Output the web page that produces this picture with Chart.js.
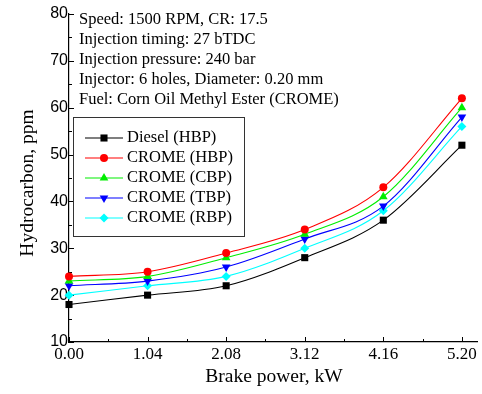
<!DOCTYPE html>
<html>
<head>
<meta charset="utf-8">
<script src="https://cdn.jsdelivr.net/npm/chart.js@4.4.1/dist/chart.umd.min.js"></script>
<style>
  html, body { margin: 0; padding: 0; background: #fff; }
  #wrap { width: 482px; height: 394px; }
</style>
</head>
<body>
<div id="wrap"><canvas id="myChart" width="482" height="394"></canvas></div>
<script>
// datos
const power = [0, 1.04, 2.08, 3.12, 4.16, 5.20];
const diesel = [18, 20, 22, 28, 36, 52];
const cromeHBP = [24, 25, 29, 34, 43, 62];
const cromeCBP = [23, 24, 28, 33, 41, 60];
const cromeTBP = [22, 23, 26, 32, 39, 58];
const cromeRBP = [20, 22, 24, 30, 38, 56];
const yTicks = [10, 20, 30, 40, 50, 60, 70, 80];
const seriesNames = ['Diesel (HBP)', 'CROME (HBP)', 'CROME (CBP)', 'CROME (TBP)', 'CROME (RBP)'];
const notes = [
  'Speed: 1500 RPM, CR: 17.5',
  'Injection timing: 27 bTDC',
  'Injection pressure: 240 bar',
  'Injector: 6 holes, Diameter: 0.20 mm',
  'Fuel: Corn Oil Methyl Ester (CROME)'
];

const serif = "'Liberation Serif', 'Times New Roman', serif";
const sans = "'Liberation Sans', Arial, sans-serif";

const pares = (vals) => power.map((p, i) => ({x: p, y: vals[i]}));

const estilos = [
  {color: '#000000', style: 'rect', rot: 0, r: 5},
  {color: '#ff0000', style: 'circle', rot: 0, r: 4},
  {color: '#00ee00', style: 'triangle', rot: 0, r: 5},
  {color: '#0000ff', style: 'triangle', rot: 180, r: 5},
  {color: '#00ffff', style: 'rectRot', rot: 0, r: 4.5}
];

const valores = [diesel, cromeHBP, cromeCBP, cromeTBP, cromeRBP];

const datasets = valores.map((v, i) => ({
  label: seriesNames[i],
  data: pares(v),
  borderColor: estilos[i].color,
  backgroundColor: estilos[i].color,
  pointBackgroundColor: estilos[i].color,
  pointBorderColor: estilos[i].color,
  pointStyle: estilos[i].style,
  pointRotation: estilos[i].rot,
  pointRadius: estilos[i].r,
  pointBorderWidth: 0,
  borderWidth: 1.1,
  cubicInterpolationMode: 'monotone',
  clip: false
}));

// ticks hacia dentro, mayores y menores
const ticksDentro = {
  id: 'ticksDentro',
  beforeDatasetsDraw(chart) {
    const ctx = chart.ctx;
    const xs = chart.scales.x, ys = chart.scales.y;
    const bottom = ys.getPixelForValue(10), left = xs.getPixelForValue(0);
    ctx.save();
    ctx.strokeStyle = '#000';
    ctx.lineWidth = 1;
    ctx.beginPath();
    for (let i = 0; i <= 10; i++) {
      const v = i * 0.52;
      const px = Math.round(xs.getPixelForValue(v)) + 0.5;
      const len = i % 2 === 0 ? 5 : 3;
      ctx.moveTo(px, bottom);
      ctx.lineTo(px, bottom - len);
    }
    for (let v = 10; v <= 80; v += 5) {
      const py = Math.round(ys.getPixelForValue(v)) + 0.5;
      const len = v % 10 === 0 ? 5 : 3;
      ctx.moveTo(left, py);
      ctx.lineTo(left + len, py);
    }
    ctx.stroke();
    ctx.restore();
  },
  afterDraw(chart) {
    const ctx = chart.ctx;
    ctx.save();
    ctx.fillStyle = '#000';
    // notas
    ctx.font = '16.5px ' + serif;
    ctx.textBaseline = 'middle';
    ctx.textAlign = 'left';
    notes.forEach((t, i) => ctx.fillText(t, 79, 20 + i * 20));
    // leyenda
    ctx.strokeStyle = '#333';
    ctx.lineWidth = 1;
    ctx.strokeRect(73.5, 117.5, 171, 119);
    chart.data.datasets.forEach((ds, i) => {
      const y = 138 + i * 20;
      ctx.strokeStyle = ds.borderColor;
      ctx.lineWidth = 1.1;
      ctx.beginPath();
      ctx.moveTo(85, y);
      ctx.lineTo(123, y);
      ctx.stroke();
      ctx.fillStyle = ds.borderColor;
      Chart.helpers.drawPoint(ctx, {
        pointStyle: ds.pointStyle, radius: ds.pointRadius, rotation: ds.pointRotation, borderWidth: 0
      }, 104, y);
      ctx.fillStyle = '#000';
      ctx.fillText(ds.label, 127, y);
    });
    // titulos de ejes
    ctx.font = '19.5px ' + serif;
    ctx.textAlign = 'center';
    ctx.fillText('Brake power, kW', 274, 377);
    ctx.translate(28, 183);
    ctx.rotate(-Math.PI / 2);
    ctx.fillText('Hydrocarbon, ppm', 0, 0);
    ctx.restore();
  }
};

const config = {
  type: 'line',
  data: {datasets: datasets},
  options: {
    responsive: false,
    animation: false,
    layout: {padding: {top: 14, right: 4, left: 0, bottom: 0}},
    plugins: {legend: {display: false}, tooltip: {enabled: false}},
    scales: {
      x: {
        type: 'linear',
        min: 0,
        max: 5.4,
        grid: {display: false, drawTicks: false},
        border: {display: true, color: '#000', width: 1.2},
        afterBuildTicks: (scale) => { scale.ticks = power.map(v => ({value: v})); },
        afterFit: (scale) => { scale.height = 52; },
        ticks: {
          autoSkip: false,
          maxRotation: 0,
          padding: 2,
          color: '#000',
          font: {family: serif, size: 17},
          callback: (v) => Number(v).toFixed(2)
        }
      },
      y: {
        min: 10,
        max: 80,
        grid: {display: false, drawTicks: false},
        border: {display: true, color: '#000', width: 1.2},
        afterBuildTicks: (scale) => { scale.ticks = yTicks.map(v => ({value: v})); },
        afterFit: (scale) => { scale.width = 69; },
        ticks: {
          padding: 1,
          color: '#000',
          font: {family: sans, size: 16}
        }
      }
    }
  },
  plugins: [ticksDentro]
};

const myChart = new Chart(document.getElementById('myChart'), config);
</script>
</body>
</html>
